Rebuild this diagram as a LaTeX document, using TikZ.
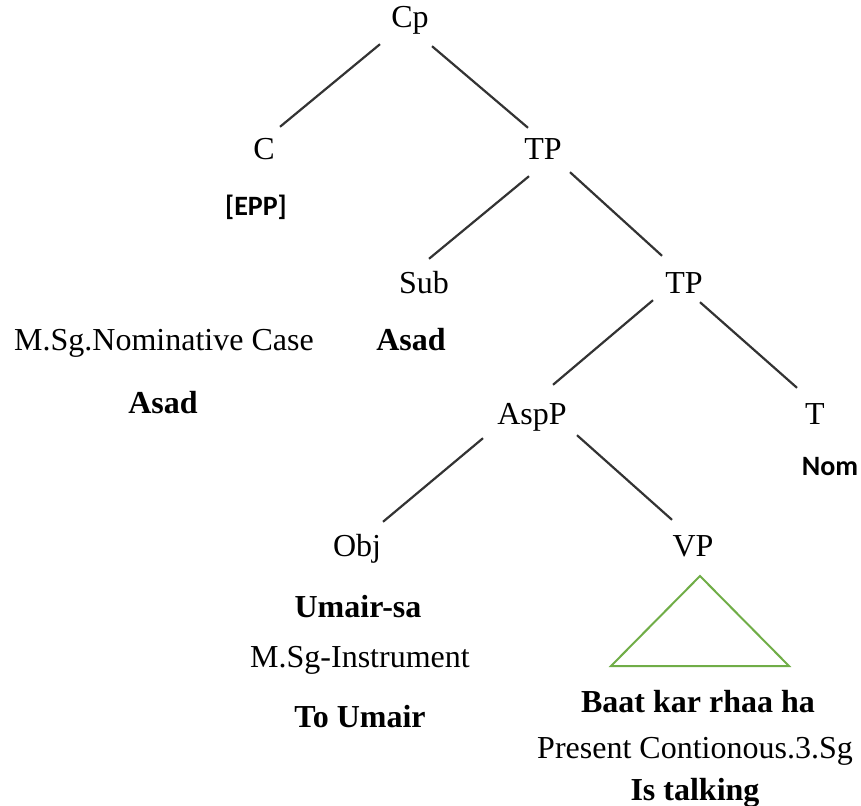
\documentclass[tikz,border=0pt]{standalone}
\usepackage{fontspec}
\setmainfont{Liberation Serif}
\newfontfamily\calib{Carlito}
\begin{document}
\begin{tikzpicture}[x=1pt,y=-1pt,
  lbl/.style={anchor=base, inner sep=0pt, text height=22pt, text depth=7pt,
              font=\fontsize{32}{38}\selectfont},
  lblb/.style={lbl, font=\fontsize{32}{38}\selectfont\bfseries},
  feat/.style={lbl, font=\fontsize{28}{34}\selectfont\calib\bfseries},
  branch/.style={draw=black!80, line width=2.2pt},
  roof/.style={draw={rgb,255:red,112;green,173;blue,71}, line width=2pt, line join=miter}]
\useasboundingbox (0,0) rectangle (861,805);

% tree labels
\node[lbl]  (cp)   at (410,28)  {Cp};
\node[lbl]  (c)    at (264,160) {C};
\node[feat] (epp)  at (256,215) {[EPP]};
\node[lbl]  (tp1)  at (543,160) {TP};
\node[lbl]  (sub)  at (424,293) {Sub};
\node[lbl]  (tp2)  at (684,293) {TP};
\node[lbl]  (nomcase) at (164,350) {M.Sg.Nominative Case};
\node[lblb] (asadA) at (411,350) {Asad};
\node[lblb] (asadB) at (163,413) {Asad};
\node[lbl]  (aspp) at (532,424) {AspP};
\node[lbl]  (t)    at (815,424) {T};
\node[feat] (nom)  at (830,475) {Nom};
\node[lbl]  (obj)  at (357,556) {Obj};
\node[lbl]  (vp)   at (693,556) {VP};
\node[lblb] (umairsa) at (358,617) {Umair-sa};
\node[lbl]  (instr)   at (360,667) {M.Sg-Instrument};
\node[lblb] (toumair) at (360,727) {To Umair};
\node[lblb] (baat)    at (698,712) {Baat kar rhaa ha};
\node[lbl]  (present) at (695,758) {Present Contionous.3.Sg};
\node[lblb] (talking) at (695,800) {Is talking};

% branches
\draw[branch] ([shift={(-30,9)}]cp.south)  -- ([shift={(16,-11)}]c.north);
\draw[branch] ([shift={(22,11)}]cp.south)  -- ([shift={(-15,-10)}]tp1.north);
\draw[branch] ([shift={(-14,9)}]tp1.south) -- ([shift={(5,-12)}]sub.north);
\draw[branch] ([shift={(27,5)}]tp1.south)  -- ([shift={(-22,-15)}]tp2.north);
\draw[branch] ([shift={(-31,0)}]tp2.south) -- ([shift={(21,-17)}]aspp.north);
\draw[branch] ([shift={(16,2)}]tp2.south)  -- ([shift={(-18,-14)}]t.north);
\draw[branch] ([shift={(-49,7)}]aspp.south) -- ([shift={(26,-12)}]obj.north);
\draw[branch] ([shift={(45,4)}]aspp.south)  -- ([shift={(-21,-14)}]vp.north);

% triangle under VP
\coordinate (apex)  at (700,576);
\coordinate (baseL) at (611,666);
\coordinate (baseR) at (789,666);
\draw[roof] (apex) -- (baseL) -- (baseR) -- cycle;
\end{tikzpicture}
\end{document}
